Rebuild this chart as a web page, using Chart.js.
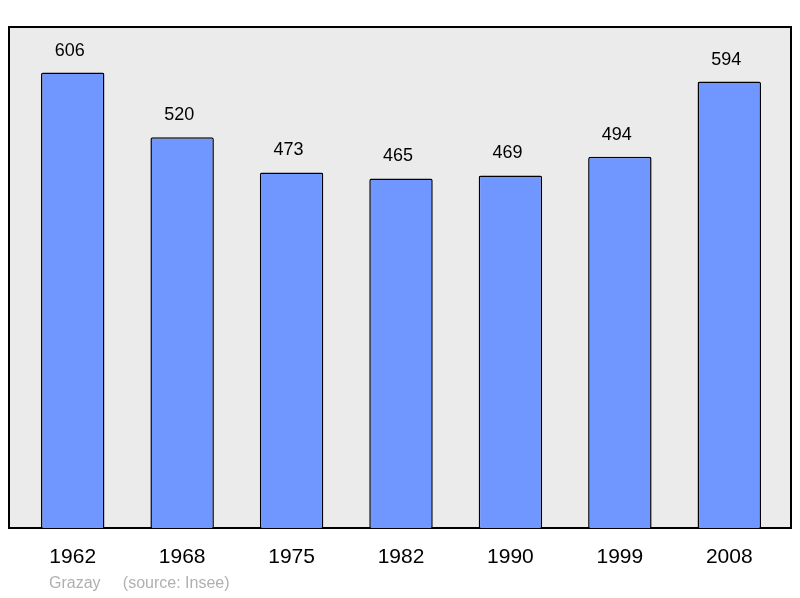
<!DOCTYPE html>
<html><head><meta charset="utf-8">
<script src="https://cdn.jsdelivr.net/npm/chart.js@4/dist/chart.umd.min.js"></script>
<style>html,body{margin:0;padding:0;background:#fff}#w{width:800px;height:598px}</style>
</head><body><div id="w"><canvas id="c"></canvas></div>
<script>
const years = ["1962","1968","1975","1982","1990","1999","2008"];
const population = [606,520,473,465,469,494,594];
const footer = "Grazay     (source: Insee)";

const deco = {
  id:'deco',
  beforeDraw(ch){
    const a=ch.chartArea, c=ch.ctx;
    c.save();
    c.fillStyle='#ebebeb'; c.strokeStyle='#000'; c.lineWidth=2;
    c.fillRect(a.left-9,a.top,a.right-a.left+16,a.bottom-a.top);
    c.strokeRect(a.left-9,a.top,a.right-a.left+16,a.bottom-a.top);
    c.restore();
  },
  afterDatasetsDraw(ch){
    const c=ch.ctx, x=ch.scales.x, y=ch.scales.y, a=ch.chartArea;
    c.save();
    c.fillStyle='#000'; c.textAlign='center'; c.textBaseline='middle';
    c.font='18px "Liberation Sans", Arial, sans-serif';
    population.forEach((v,i)=>c.fillText(String(v),x.getPixelForValue(i)-3,y.getPixelForValue(v)-22));
    c.font='21px "Liberation Sans", Arial, sans-serif';
    years.forEach((t,i)=>c.fillText(t,x.getPixelForValue(i),a.bottom+29));
    c.fillStyle='#b0b0b0'; c.textAlign='left'; c.font='16px "Liberation Sans", Arial, sans-serif';
    c.fillText(footer,49,a.bottom+56);
    c.restore();
  }
};

new Chart(document.getElementById('c'),{
  type:'bar',
  data:{labels:years,datasets:[{data:population,backgroundColor:'#7097ff',borderColor:'#000',borderWidth:1.5,
    borderRadius:2,borderSkipped:'bottom',barPercentage:0.58,categoryPercentage:1}]},
  options:{responsive:true,maintainAspectRatio:false,animation:false,
    layout:{padding:{left:18,right:16,top:27,bottom:70}},
    plugins:{legend:{display:false},tooltip:{enabled:false}},
    scales:{x:{display:false},y:{display:false,min:0,max:666.6}}},
  plugins:[deco]
});
</script></body></html>
